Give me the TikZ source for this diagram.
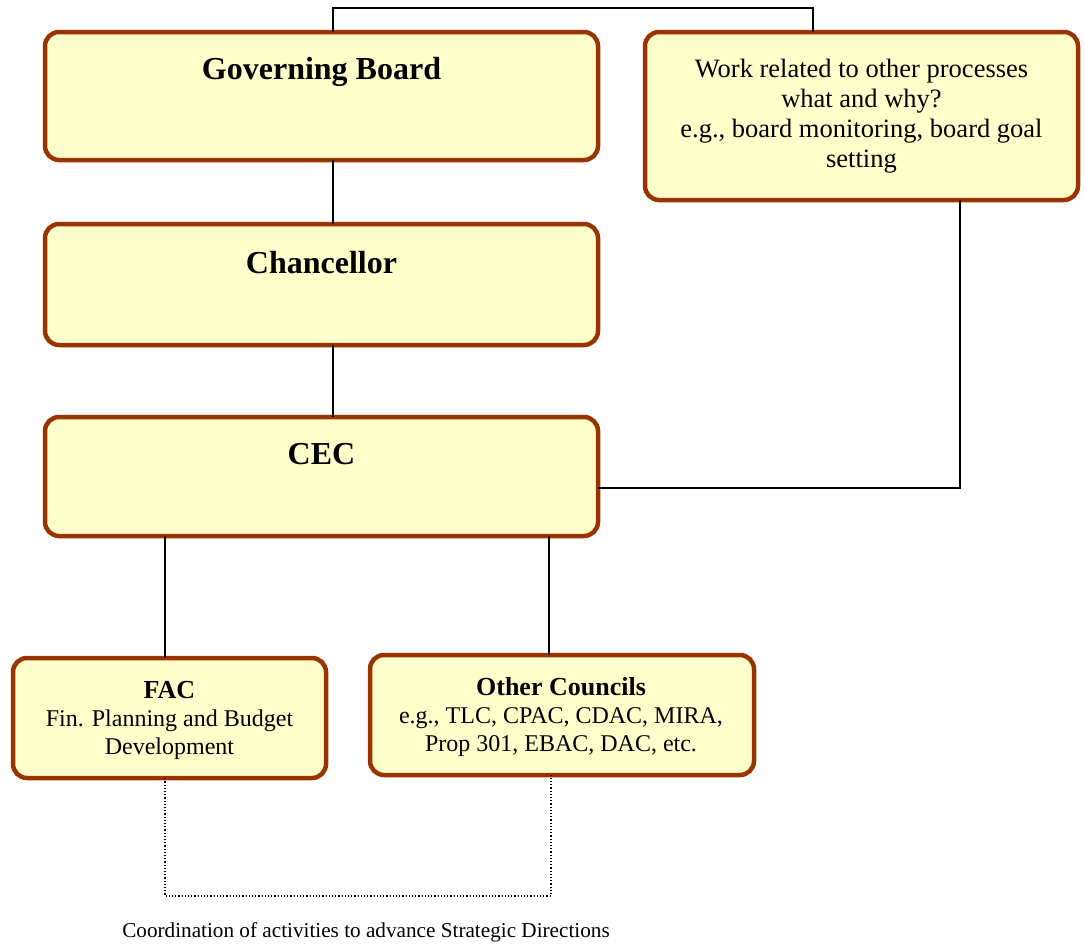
\documentclass[tikz,border=0pt]{standalone}
\usepackage{fontspec}
\setmainfont{Liberation Serif}
\definecolor{boxfill}{HTML}{FFFFCC}
\definecolor{boxdraw}{HTML}{993300}
\begin{document}
\begin{tikzpicture}[x=1pt,y=-1pt,
  box/.style={draw=boxdraw,fill=boxfill,line width=4.5pt,rounded corners=14pt},
  conn/.style={draw=black,line width=1.4pt},
  dots/.style={draw=black,line width=1.2pt,dotted},
  head/.style={font=\fontsize{32}{36}\selectfont\bfseries,inner sep=0pt},
  body/.style={font=\fontsize{26.5}{30}\selectfont,align=center,inner sep=0pt},
  small/.style={font=\fontsize{24}{28}\selectfont,align=center,inner sep=0pt}]
\useasboundingbox (0,0) rectangle (1085,945);
% boxes
\path[box] (45,32) rectangle (598,160);
\node[inner sep=0pt,minimum width=553pt,minimum height=128pt] (gb) at (321.5,96) {};
\path[box] (645,32) rectangle (1078,200);
\node[inner sep=0pt,minimum width=433pt,minimum height=168pt] (wk) at (861.5,116) {};
\path[box] (45,224) rectangle (598,345);
\node[inner sep=0pt,minimum width=553pt,minimum height=121pt] (ch) at (321.5,284.5) {};
\path[box] (45,417) rectangle (598,536);
\node[inner sep=0pt,minimum width=553pt,minimum height=119pt] (cec) at (321.5,476.5) {};
\path[box] (13,658) rectangle (326,778);
\node[inner sep=0pt,minimum width=313pt,minimum height=120pt] (fac) at (169.5,718) {};
\path[box] (370,655) rectangle (754,775);
\node[inner sep=0pt,minimum width=384pt,minimum height=120pt] (oc) at (562,715) {};
% texts
\node[head] (gbt) at (321.5,71.5) {Governing Board};
\node[head] (cht) at (321.5,263) {Chancellor};
\node[head] (cect) at (321.5,454) {CEC};
\node[body] (wkt) at (861.5,116) {Work related to other processes\\what and why?\\e.g., board monitoring, board goal\\setting};
\node[small] (fact) at (169.5,720.5) {{\fontsize{26}{28}\selectfont\bfseries FAC}\\Fin. Planning and Budget\\Development};
\node[small] (oct) at (561,717.5) {{\fontsize{26}{28}\selectfont\bfseries Other Councils}\\e.g., TLC, CPAC, CDAC, MIRA,\\Prop 301, EBAC, DAC, etc.};
\node[font=\fontsize{21.2}{24}\selectfont,inner sep=0pt] (cap) at (366,932) {Coordination of activities to advance Strategic Directions};
% connectors
\coordinate (tl) at (333,8);
\coordinate (tr) at (813,8);
\draw[conn] (gb.north -| tl) -- (tl) -- (tr) -- (wk.north -| tr);
\draw[conn] (gb.south -| tl) -- (ch.north -| tl);
\draw[conn] (ch.south -| tl) -- (cec.north -| tl);
\coordinate (wr) at (960,488);
\draw[conn] (wk.south -| wr) -- (wr) -- (cec.east |- wr);
\coordinate (fl) at (165,600);
\coordinate (ol) at (549,600);
\draw[conn] (cec.south -| fl) -- (fac.north -| fl);
\draw[conn] (cec.south -| ol) -- (oc.north -| ol);
\coordinate (dl) at (165,896);
\coordinate (dr) at (551,896);
\draw[dots] (fac.south -| dl) -- (dl) -- (dr) -- (oc.south -| dr);
\end{tikzpicture}
\end{document}
